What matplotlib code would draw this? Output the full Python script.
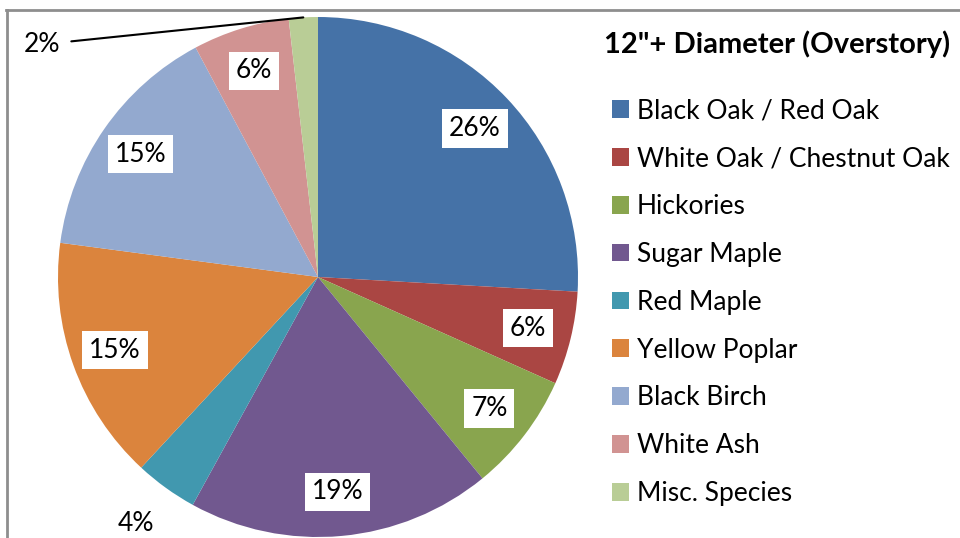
import matplotlib
matplotlib.use("Agg")
import numpy as np
import matplotlib.pyplot as plt
from matplotlib.lines import Line2D

# ── Data ───────────────────────────────────────────────────────────────────
SPECIES = ["Black Oak / Red Oak", "White Oak / Chestnut Oak", "Hickories",
           "Sugar Maple", "Red Maple", "Yellow Poplar", "Black Birch",
           "White Ash", "Misc. Species"]
SHARE = [25.9, 5.8, 7.4, 18.9, 3.9, 15.2, 15.1, 6.0, 1.8]
COLORS = ["#4572A7", "#AA4643", "#89A54E", "#71588F", "#4198AF",
          "#DB843D", "#93A9CF", "#D19392", "#B9CD96"]
TITLE = '12"+ Diameter (Overstory)'

FONT = "Lato"
FS = 19

# ── Figure in pixel units ──────────────────────────────────────────────────
W, H = 960, 538
fig = plt.figure(figsize=(W / 100, H / 100), dpi=100)
ax = fig.add_axes([0, 0, 1, 1])

CX, CY, R = 318, H - 277, 260

wedges, texts, autotexts = ax.pie(
    SHARE, colors=COLORS, startangle=90, counterclock=False,
    center=(CX, CY), radius=R, autopct="%.0f%%", pctdistance=0.83,
    wedgeprops=dict(linewidth=0),
    textprops=dict(family=FONT, fontsize=FS, color="black"),
    frame=True,
)
ax.set_xlim(0, W)
ax.set_ylim(0, H)
ax.set_aspect("equal")
ax.axis("off")

for t in autotexts:
    t.set_bbox(dict(facecolor="white", edgecolor="none", pad=5))

# small slices: labels outside the pie
w4 = wedges[4]
mid = np.deg2rad((w4.theta1 + w4.theta2) / 2)
autotexts[4].set_position((CX + 1.17 * R * np.cos(mid) - 4, CY + 1.17 * R * np.sin(mid)))
autotexts[4].set_bbox(None)

w8 = wedges[8]
mid = np.deg2rad((w8.theta1 + w8.theta2) / 2)
autotexts[8].set_visible(False)
ax.annotate(f"{SHARE[8]:.0f}%", xy=(CX + R * np.cos(mid), CY + R * np.sin(mid)),
            xytext=(42, H - 45), ha="center", va="center",
            family=FONT, fontsize=FS,
            arrowprops=dict(arrowstyle="-", color="black", lw=1.5,
                            relpos=(1, 0.6), shrinkA=6, shrinkB=0))

# ── Legend ─────────────────────────────────────────────────────────────────
leg = ax.legend(wedges, SPECIES, title=TITLE, loc="upper left",
                bbox_to_anchor=(593 / W, 1 - 20 / H), frameon=False,
                prop=dict(family=FONT, size=FS),
                title_fontproperties=dict(family=FONT, size=FS + 2, weight="bold"),
                handlelength=0.65, handleheight=0.65, handletextpad=0.3,
                labelspacing=0.865, borderaxespad=0)
leg._legend_box.sep = 29
leg._legend_box.align = "right"

# ── Chart frame ────────────────────────────────────────────────────────────
fig.add_artist(Line2D([6 / W, 1], [1 - 9.5 / H, 1 - 9.5 / H], color="#8E8E8E", lw=2))
fig.add_artist(Line2D([6.5 / W, 6.5 / W], [0, 1 - 9.5 / H], color="#8E8E8E", lw=2))

fig.savefig("out.png", dpi=100)
